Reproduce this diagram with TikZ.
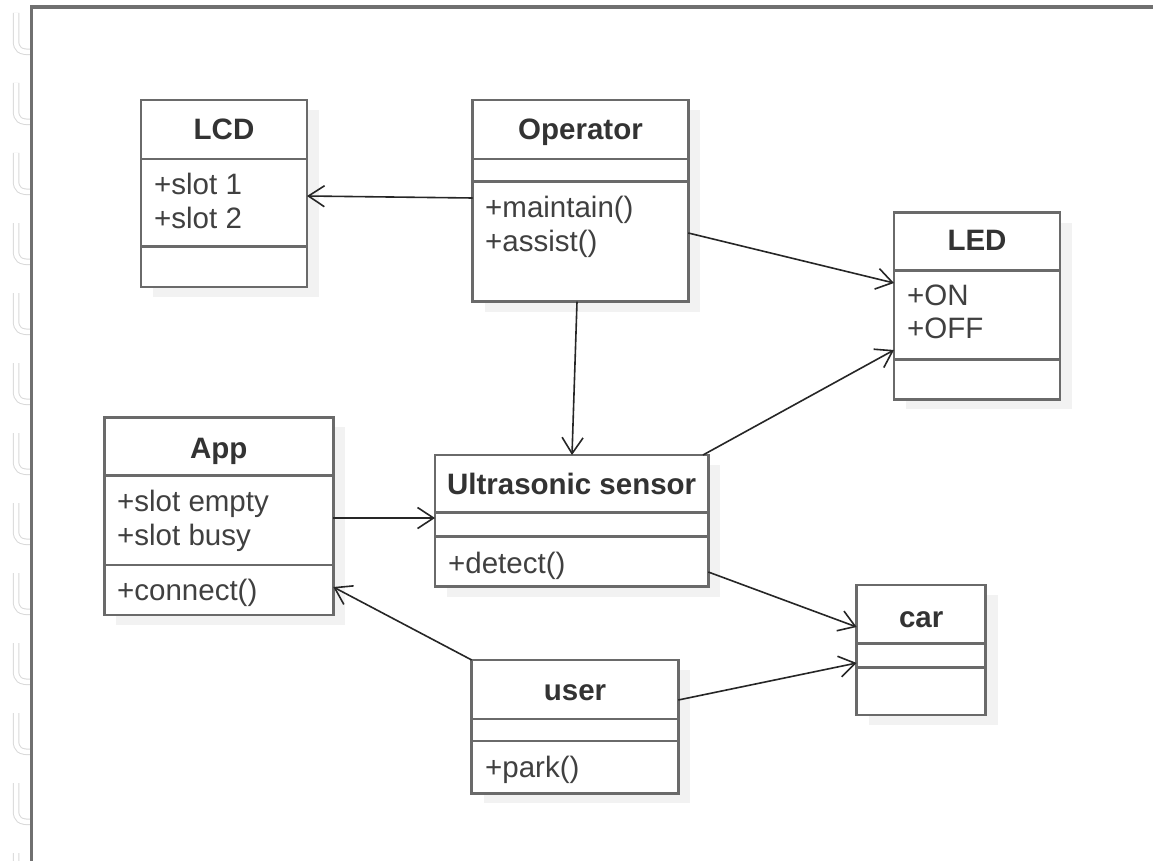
\documentclass[tikz,border=0pt]{standalone}
\usepackage{fontspec}
\setmainfont{Liberation Sans}
\usetikzlibrary{arrows.meta,shadows}
\definecolor{boxline}{HTML}{6A6A6A}
\definecolor{txt}{HTML}{333333}
\definecolor{membertxt}{HTML}{404040}
\definecolor{framec}{HTML}{707070}
\begin{document}
\begin{tikzpicture}[x=1pt,y=-1pt,
  umlbox/.style={draw=boxline, line width=2.6pt, fill=white, inner sep=0pt, outer sep=0pt,
    drop shadow={shadow xshift=12pt, shadow yshift=-10pt, fill=black!5, opacity=1}},
  divider/.style={draw=boxline, line width=2.6pt},
  title/.style={font=\fontsize{29.5}{33}\selectfont\bfseries, text=txt, inner sep=0pt, anchor=base},
  member/.style={font=\fontsize{29.5}{33}\selectfont, text=membertxt, inner sep=0pt, anchor=base west},
  assoc/.style={draw=black!85, line width=1.6pt, -{Straight Barb[length=16pt,width=21pt]}},
  hook/.style={draw=black!15, double=white, double distance=4.5pt, line width=1pt},
  frameline/.style={draw=framec, line width=3.2pt}]
\useasboundingbox (0,0) rectangle (1153,861);
\fill[white] (0,0) rectangle (1153,861);

% binding hooks
\foreach \k in {0,...,12}{
  \draw[hook] (16,{13+70*\k}) -- (16,{40+70*\k}) .. controls (16,{50+70*\k}) and (20,{52+70*\k}) .. (31,{52+70*\k});
}
% frame
\draw[frameline] (31.5,861) -- (31.5,7) -- (1153,7);

% boxes
\node[umlbox, minimum width=166pt, minimum height=187pt] (lcd) at (224,193.5) {};
\node[umlbox, minimum width=215.6pt, minimum height=201.7pt] (op) at (580.5,200.85) {};
\node[umlbox, minimum width=166pt, minimum height=186.6pt] (led) at (977,306) {};
\node[umlbox, minimum width=229pt, minimum height=197.7pt] (app) at (218.8,516.15) {};
\node[umlbox, minimum width=273.3pt, minimum height=131.7pt] (us) at (571.65,520.85) {};
\node[umlbox, minimum width=129pt, minimum height=130pt] (car) at (921.2,650) {};
\node[umlbox, minimum width=206.6pt, minimum height=133.3pt] (user) at (575,726.65) {};

% dividers
\draw[divider] (lcd.west |- 0,159) -- (lcd.east |- 0,159);
\draw[divider] (lcd.west |- 0,246.7) -- (lcd.east |- 0,246.7);
\draw[divider] (op.west |- 0,159) -- (op.east |- 0,159);
\draw[divider] (op.west |- 0,181.7) -- (op.east |- 0,181.7);
\draw[divider] (led.west |- 0,270.7) -- (led.east |- 0,270.7);
\draw[divider] (led.west |- 0,359.3) -- (led.east |- 0,359.3);
\draw[divider] (app.west |- 0,475.7) -- (app.east |- 0,475.7);
\draw[divider] (app.west |- 0,565) -- (app.east |- 0,565);
\draw[divider] (us.west |- 0,512.7) -- (us.east |- 0,512.7);
\draw[divider] (us.west |- 0,536.7) -- (us.east |- 0,536.7);
\draw[divider] (car.west |- 0,643.3) -- (car.east |- 0,643.3);
\draw[divider] (car.west |- 0,667.3) -- (car.east |- 0,667.3);
\draw[divider] (user.west |- 0,719) -- (user.east |- 0,719);
\draw[divider] (user.west |- 0,741) -- (user.east |- 0,741);

% titles
\node[title] (lcdT) at (224,140) {LCD};
\node[title] (opT) at (580.5,140) {Operator};
\node[title] (ledT) at (977,250) {LED};
\node[title] (appT) at (218.8,458) {App};
\node[title] (usT) at (571.65,494) {Ultrasonic sensor};
\node[title] (carT) at (921.2,627) {car};
\node[title] (userT) at (575,700) {user};

% members
\node[member] (lcd1) at (154,195) {+slot 1};
\node[member] (lcd2) at (154,228) {+slot 2};
\node[member] (op1) at (485,218) {+maintain()};
\node[member] (op2) at (485,251) {+assist()};
\node[member] (led1) at (907,305) {+ON};
\node[member] (led2) at (907,338) {+OFF};
\node[member] (app1) at (117,511) {+slot empty};
\node[member] (app2) at (117,545) {+slot busy};
\node[member] (app3) at (117,600) {+connect()};
\node[member] (us1) at (448,573) {+detect()};
\node[member] (user1) at (485,777) {+park()};

% associations
\draw[assoc] (op.west |- 0,198) -- (lcd.east |- 0,196);
\draw[assoc] (op.east |- 0,233) -- (led.west |- 0,283);
\draw[assoc] (op.south -| 577,0) -- (us.north -| 572,0);
\draw[assoc] (us.north -| 703,0) -- (led.west |- 0,350);
\draw[assoc] (app.east |- 0,518) -- (us.west |- 0,518);
\draw[assoc] (us.east |- 0,572) -- (car.west |- 0,627);
\draw[assoc] (user.north west) -- (app.east |- 0,587);
\draw[assoc] (user.east |- 0,700) -- (car.west |- 0,663);
\end{tikzpicture}
\end{document}
